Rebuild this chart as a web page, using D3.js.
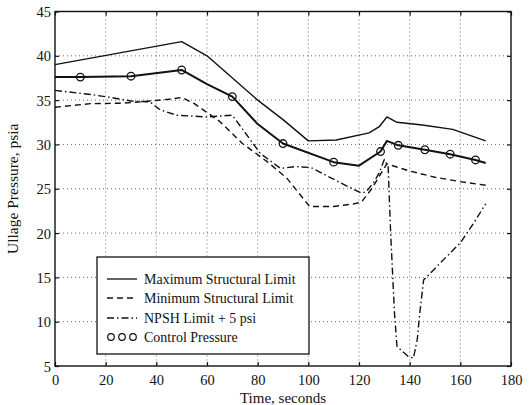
<!DOCTYPE html>
<html><head><meta charset="utf-8">
<script src="https://cdn.jsdelivr.net/npm/d3@7"></script>
<style>body{margin:0;background:#fff}svg{display:block}</style>
</head><body>
<svg id="c" width="530" height="405"></svg>
<script>
// ---- data ----
const xTicks = [0,20,40,60,80,100,120,140,160,180];
const yTicks = [5,10,15,20,25,30,35,40,45];

const maxT = [0,50,60,80,90,100,111,124,128,131,135,145,157,170];
const maxP = [39.0,41.6,40.0,35.0,32.8,30.4,30.5,31.3,32.0,33.1,32.5,32.2,31.7,30.4];

const minT = [0,14,26,34,45,50,55,60,65,74,84,91.5,100.5,110,118,121,125,131,140,150,160,170];
const minP = [34.2,34.6,34.65,34.8,35.1,35.3,34.6,33.6,32.6,30.1,28.0,26.2,23.0,23.0,23.3,23.5,25.0,27.8,27.0,26.3,25.8,25.4];

const npshT = [0,15,22,30,37.5,41.5,48,60,70,81,89,95,101,112.5,121,123,126,128,130,131.5,132.5,134,135,139.5,141.5,143,144,145.5,152,160,165,170];
const npshP = [36.1,35.6,35.3,34.9,34.8,33.9,33.3,33.1,33.3,29.0,27.3,27.5,27.4,25.7,24.5,24.7,25.8,26.8,28.3,27.5,20,11,7.2,6.05,5.9,8,11,14.7,16.6,18.9,21.0,23.3];

const ctrlT = [0,10,30,50,60,70,80,90,110,120,128.5,131,135.5,146,156,166,170];
const ctrlP = [37.6,37.6,37.7,38.4,36.8,35.4,32.3,30.1,28.0,27.6,29.2,30.4,29.9,29.4,28.9,28.25,27.9];
const markT = [10,30,50,70,90,110,128.5,135.5,146,156,166];
const markP = [37.6,37.7,38.4,35.4,30.1,28.0,29.2,29.9,29.4,28.9,28.25];

const legendLabels = ["Maximum Structural Limit","Minimum Structural Limit","NPSH Limit + 5 psi","Control Pressure"];

// ---- layout ----
const L = 55, R = 511, T = 11.5, B = 366;
const svg = d3.select("#c");
const x = d3.scaleLinear().domain([0,180]).range([L,R]);
const y = d3.scaleLinear().domain([5,45]).range([B,T]);
const font = "'Liberation Serif','Times New Roman',serif";

// grid
const g = svg.append("g");
g.selectAll(".gx").data(xTicks.slice(1,-1)).join("line")
  .attr("x1",d=>x(d)).attr("x2",d=>x(d)).attr("y1",T).attr("y2",B)
  .attr("stroke","#444").attr("stroke-width",0.8).attr("stroke-dasharray","1,3");
g.selectAll(".gy").data(yTicks.slice(1,-1)).join("line")
  .attr("x1",L).attr("x2",R).attr("y1",d=>y(d)).attr("y2",d=>y(d))
  .attr("stroke","#444").attr("stroke-width",0.8).attr("stroke-dasharray","1,3");

// axes (ticks inward, labels)
const axB = svg.append("g").attr("transform",`translate(0,${B})`)
  .call(d3.axisBottom(x).tickValues(xTicks).tickSize(-4).tickPadding(6).tickFormat(d3.format("d")));
const axL = svg.append("g").attr("transform",`translate(${L},0)`)
  .call(d3.axisLeft(y).tickValues(yTicks).tickSize(-4).tickPadding(4).tickFormat(d3.format("d")));
const axT = svg.append("g").attr("transform",`translate(0,${T})`)
  .call(d3.axisTop(x).tickValues(xTicks).tickSize(-4).tickFormat(""));
const axR = svg.append("g").attr("transform",`translate(${R},0)`)
  .call(d3.axisRight(y).tickValues(yTicks).tickSize(-4).tickFormat(""));
[axB,axL,axT,axR].forEach(a=>{
  a.select(".domain").remove();
  a.selectAll("line").attr("stroke","#111").attr("stroke-width",1.2);
  a.selectAll("text").attr("font-family",font).attr("font-size",14.5).attr("fill","#111");
});
axB.selectAll("text").attr("dy","0.9em");
axL.selectAll("text").attr("dy","0.35em");

// frame
svg.append("rect").attr("x",L).attr("y",T).attr("width",R-L).attr("height",B-T)
  .attr("fill","none").attr("stroke","#111").attr("stroke-width",1.4);

// lines
const line = d3.line().x(d=>x(d[0])).y(d=>y(d[1]));
const zip = (a,b)=>a.map((v,i)=>[v,b[i]]);
const series = [
  {d:zip(maxT,maxP), dash:null, w:1.4},
  {d:zip(minT,minP), dash:"6,4", w:1.4},
  {d:zip(npshT,npshP), dash:"7,3,1.5,3", w:1.4},
  {d:zip(ctrlT,ctrlP), dash:null, w:2}
];
series.forEach(s=>{
  svg.append("path").attr("d",line(s.d)).attr("fill","none").attr("stroke","#111")
    .attr("stroke-width",s.w).attr("stroke-dasharray",s.dash).attr("stroke-linejoin","round");
});
svg.selectAll(".mk").data(zip(markT,markP)).join("circle")
  .attr("cx",d=>x(d[0])).attr("cy",d=>y(d[1])).attr("r",3.8)
  .attr("fill","none").attr("stroke","#111").attr("stroke-width",1.3);

// legend
const lg = svg.append("g");
lg.append("rect").attr("x",97).attr("y",257).attr("width",212).attr("height",97)
  .attr("fill","#fff").attr("stroke","#111").attr("stroke-width",1.3);
const rowY = [279,298,318,337];
const sx1 = 107, sx2 = 137;
legendLabels.forEach((t,i)=>{
  const yy = rowY[i];
  if(i<3){
    lg.append("line").attr("x1",sx1).attr("x2",sx2).attr("y1",yy).attr("y2",yy)
      .attr("stroke","#111").attr("stroke-width",1.3).attr("stroke-dasharray",series[i].dash);
  } else {
    [111,122,133].forEach(cx=>lg.append("circle").attr("cx",cx).attr("cy",yy).attr("r",3.3)
      .attr("fill","none").attr("stroke","#111").attr("stroke-width",1.2));
  }
  lg.append("text").attr("x",144).attr("y",yy).attr("dy","0.35em")
    .attr("font-family",font).attr("font-size",14).attr("fill","#111").text(t);
});

// axis titles
svg.append("text").attr("x",(L+R)/2).attr("y",403).attr("text-anchor","middle")
  .attr("font-family",font).attr("font-size",15).attr("fill","#111").text("Time, seconds");
svg.append("text").attr("transform",`translate(18,${(T+B)/2}) rotate(-90)`).attr("text-anchor","middle")
  .attr("font-family",font).attr("font-size",15.5).attr("fill","#111").text("Ullage Pressure, psia");
</script>
</body></html>
